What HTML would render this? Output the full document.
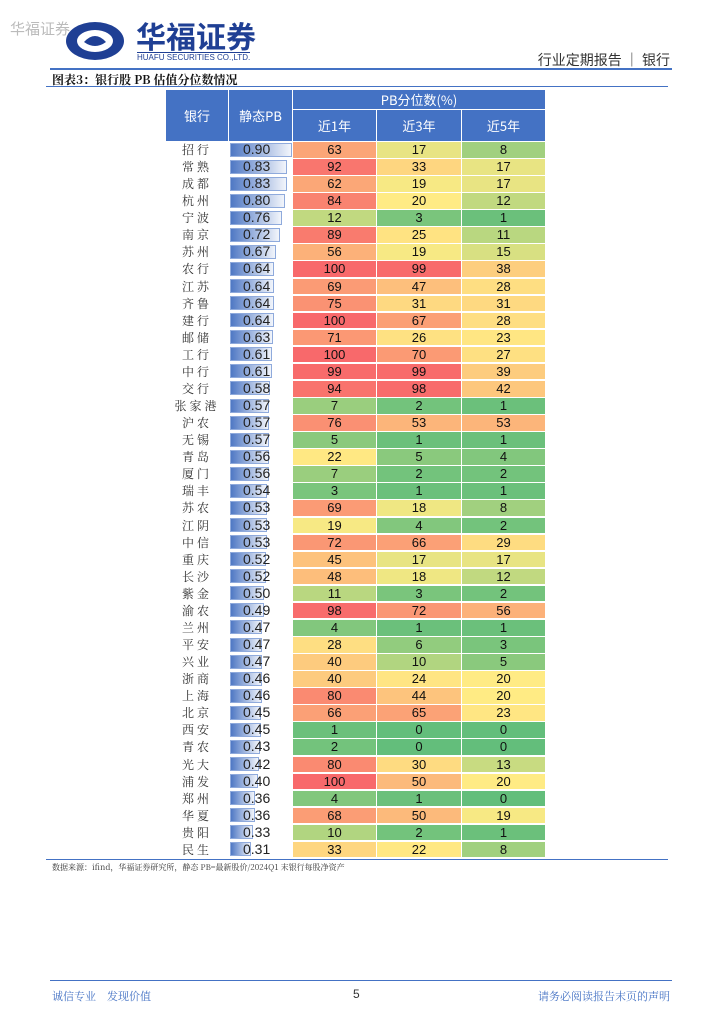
<!DOCTYPE html>
<html><head><meta charset="utf-8"><style>
body{margin:0;width:724px;height:1024px;background:#fff;position:relative;font-family:"Liberation Sans","Noto Serif CJK SC",serif;overflow:hidden}
.abs{position:absolute}
.h{position:absolute;background:#4472c4;color:#fff;font-size:13px;display:flex;align-items:center;justify-content:center;font-family:"Noto Sans CJK SC",sans-serif;box-sizing:border-box;border:1px solid #fff}
.c{position:absolute;font-size:13px;text-align:center;box-sizing:border-box;border:1px solid #fff;font-family:"Liberation Sans",sans-serif;color:#111}
.b{position:absolute;font-family:"Noto Serif CJK SC",serif;color:#333;letter-spacing:3px;text-align:center;font-size:12px}
.bar{position:absolute;height:14px;background:linear-gradient(90deg,#4f78c4,#f2f5fb);border:1px solid #8faadc;box-sizing:border-box}
.pv{position:absolute;font-size:14px;color:#222;font-family:"Liberation Sans",sans-serif}
</style></head><body>
<div class="abs" style="left:10px;top:18px;font-size:15px;color:#bbb;font-family:'Noto Sans CJK SC',sans-serif">华福证券</div>
<svg class="abs" style="left:64px;top:20px" width="62" height="42"><ellipse cx="31" cy="21" rx="29" ry="19" fill="#1f3f94"/><ellipse cx="31" cy="21" rx="18" ry="11" fill="#fff"/><path d="M20 22 Q31 10 42 22 Q31 30 20 22Z" fill="#1f3f94"/></svg>
<div class="abs" style="left:136px;top:18px;font-size:30px;font-weight:bold;color:#1f3f94;font-family:'Noto Sans CJK SC',sans-serif;line-height:34px">华福证券</div>
<div class="abs" style="left:137px;top:52px;font-size:8px;color:#1f3f94;border-top:1px solid #1f3f94">HUAFU SECURITIES CO.,LTD.</div>
<div class="abs" style="right:54px;top:50px;font-size:14px;color:#333;font-family:'Noto Sans CJK SC',sans-serif">行业定期报告 ｜ 银行</div>
<div class="abs" style="left:50px;top:68px;width:622px;height:2px;background:#4472c4"></div>
<div class="abs" style="left:52px;top:71px;font-size:12px;font-weight:bold;color:#111;font-family:'Noto Serif CJK SC',serif">图表3：银行股 PB 估值分位数情况</div>
<div class="abs" style="left:46px;top:86px;width:622px;height:1px;background:#4472c4"></div>
<div class="h" style="left:165px;top:89px;width:64px;height:53px">银行</div>
<div class="h" style="left:228px;top:89px;width:65px;height:53px">静态PB</div>
<div class="h" style="left:292px;top:89px;width:254px;height:21px">PB分位数(%)</div>
<div class="h" style="left:292px;top:109px;width:85px;height:33px">近1年</div>
<div class="h" style="left:376px;top:109px;width:86px;height:33px">近3年</div>
<div class="h" style="left:461px;top:109px;width:85px;height:33px">近5年</div>
<div id="t"></div>
<div class="abs" style="left:46px;top:859px;width:622px;height:1px;background:#4472c4"></div>
<div class="abs" style="left:52px;top:862px;font-size:8px;color:#333;font-family:'Noto Serif CJK SC',serif">数据来源：ifind，华福证券研究所，静态 PB=最新股价/2024Q1 末银行每股净资产</div>
<div class="abs" style="left:50px;top:980px;width:622px;height:1px;background:#4472c4"></div>
<div class="abs" style="left:52px;top:988px;font-size:11px;color:#4472c4;font-family:'Noto Serif CJK SC',serif">诚信专业　发现价值</div>
<div class="abs" style="left:353px;top:987px;font-size:12px;color:#333">5</div>
<div class="abs" style="right:54px;top:988px;font-size:11px;color:#4472c4;font-family:'Noto Serif CJK SC',serif">请务必阅读报告末页的声明</div>
<script>
const banks=["招行","常熟","成都","杭州","宁波","南京","苏州","农行","江苏","齐鲁","建行","邮储","工行","中行","交行","张家港","沪农","无锡","青岛","厦门","瑞丰","苏农","江阴","中信","重庆","长沙","紫金","渝农","兰州","平安","兴业","浙商","上海","北京","西安","青农","光大","浦发","郑州","华夏","贵阳","民生"];
const pb=[0.90,0.83,0.83,0.80,0.76,0.72,0.67,0.64,0.64,0.64,0.64,0.63,0.61,0.61,0.58,0.57,0.57,0.57,0.56,0.56,0.54,0.53,0.53,0.53,0.52,0.52,0.50,0.49,0.47,0.47,0.47,0.46,0.46,0.45,0.45,0.43,0.42,0.40,0.36,0.36,0.33,0.31];
const y1=[63,92,62,84,12,89,56,100,69,75,100,71,100,99,94,7,76,5,22,7,3,69,19,72,45,48,11,98,4,28,40,40,80,66,1,2,80,100,4,68,10,33];
const y3=[17,33,19,20,3,25,19,99,47,31,67,26,70,99,98,2,53,1,5,2,1,18,4,66,17,18,3,72,1,6,10,24,44,65,0,0,30,50,1,50,2,22];
const y5=[8,17,17,12,1,11,15,38,28,31,28,23,27,39,42,1,53,1,4,2,1,8,2,29,17,12,2,56,1,3,5,20,20,23,0,0,13,20,0,19,1,8];
function mix(a,b,t){return a.map((v,i)=>Math.round(v+(b[i]-v)*t));}
function median(a){const s=[...a].sort((x,y)=>x-y),n=s.length;return n%2?s[(n-1)/2]:(s[n/2-1]+s[n/2])/2;}
function scale(arr){const mn=Math.min(...arr),mx=Math.max(...arr),md=median(arr);const g=[99,190,123],y=[255,235,132],r=[248,105,107];
return v=>{const c=v<=md?mix(g,y,md>mn?(v-mn)/(md-mn):1):mix(y,r,mx>md?(v-md)/(mx-md):0);return `rgb(${c})`;};}
const cols=[y1,y3,y5],color=scale([].concat(y1,y3,y5)),cx=[292,376,461],cw=[85,86,85];
const top0=141,rh=17.07,pbMax=Math.max(...pb);
const t=document.getElementById('t');
banks.forEach((b,i)=>{
const y=top0+i*rh;
const n=document.createElement('div');n.className='b';n.textContent=b;


n.style.cssText=`left:165px;top:${y}px;width:64px;height:${rh}px;line-height:${rh}px`;t.appendChild(n);
const bar=document.createElement('div');bar.className='bar';


bar.style.cssText=`left:230px;top:${y+1.5}px;width:${62*pb[i]/pbMax}px`;t.appendChild(bar);
const v=document.createElement('div');v.className='pv';v.textContent=pb[i].toFixed(2);


v.style.cssText=`left:243px;top:${y}px;line-height:${rh}px`;t.appendChild(v);
cols.forEach((arr,k)=>{const c=document.createElement('div');c.className='c';c.textContent=arr[i];


c.style.cssText=`left:${cx[k]}px;top:${y}px;width:${cw[k]}px;height:${rh+0.5}px;line-height:${rh-2}px;background:${color(arr[i])}`;t.appendChild(c);});
});
</script>
</body></html>
